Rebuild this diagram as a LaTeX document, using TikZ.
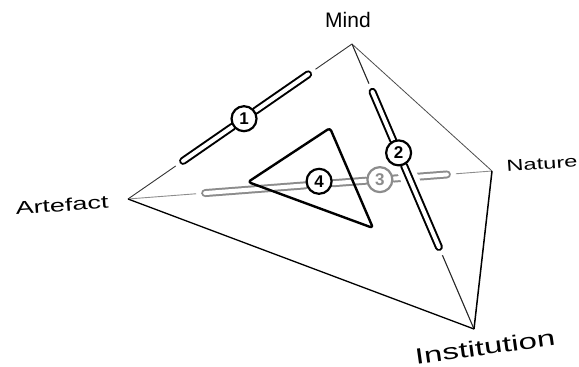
\documentclass[tikz,border=0pt]{standalone}
\usepackage{fontspec}
\setmainfont{Liberation Sans}
\usetikzlibrary{calc}
\begin{document}
\begin{tikzpicture}[x=1pt,y=-1pt,
  halo/.style={white,line width=18pt,line cap=round},
  capsule/.style={draw=#1,line width=2pt,double=white,double distance=4pt,line cap=round},
  num/.style={circle,draw=#1,text=#1,fill=white,line width=2.2pt,minimum size=25pt,inner sep=0pt,font=\fontsize{17}{17}\selectfont\bfseries},
  lbl/.style={inner sep=0pt}]
\useasboundingbox (0,0) rectangle (579,367);
% vertices
\coordinate (M) at (352,44);
\coordinate (A) at (128,199);
\coordinate (N) at (492,171);
\coordinate (I) at (474,329);
% labels
\node[lbl,font=\fontsize{21}{21}\selectfont] (lM) at (348,20) {Mind};
\node[lbl,rotate=4,font=\fontsize{18}{18}\selectfont] (lA) at (62,205) {\scalebox{1.5}[1]{Artefact}};
\node[lbl,rotate=4,font=\fontsize{16}{16}\selectfont] (lN) at (542,164) {\scalebox{1.48}[1]{Nature}};
\node[lbl,rotate=8,font=\fontsize{22}{22}\selectfont] (lI) at (485,347) {\scalebox{1.5}[1]{Institution}};
% edges
\draw[line width=0.9pt,black!80] (M) -- (A);
\draw[line width=0.8pt,black!70] (M) -- (N);
\draw[line width=1.1pt,black!85] (M) -- (I);
\draw[line width=0.9pt,black!45] (A) -- (N);
\draw[line width=1.3pt] (A) -- (I);
\draw[line width=1.5pt] (N) -- (I);
% bar 3 (grey)
\coordinate (b3a) at ($(A)!0.212!(N)$);
\coordinate (b3b) at ($(A)!0.876!(N)$);
\coordinate (p3) at ($(A)!0.692!(N)$);
\coordinate (p4) at ($(A)!0.525!(N)$);
\draw[halo] (b3a) -- (b3b);
\draw[capsule=black!45] (b3a) -- ($(p4)!14pt!(b3a)$);
\draw[capsule=black!45] ($(p4)!14pt!(p3)$) -- ($(p3)!14pt!(p4)$);
\draw[capsule=black!45] ($(p3)!14pt!(b3b)$) -- (b3b);
% triangle 4
\coordinate (t1) at (248,182);
\coordinate (t2) at (330,128);
\coordinate (t3) at (373,228);
\draw[line width=2.4pt,rounded corners=3pt,line join=round] (t1) -- (t2) -- (t3) -- cycle;
% bar 2
\coordinate (b2a) at ($(M)!0.168!(I)$);
\coordinate (b2b) at ($(M)!0.712!(I)$);
\coordinate (p2) at ($(M)!0.382!(I)$);
\draw[halo] (b2a) -- (b2b);
\draw[capsule=black] (b2a) -- ($(p2)!14pt!(b2a)$);
\draw[capsule=black] ($(p2)!14pt!(b2b)$) -- (b2b);
% bar 1
\coordinate (b1a) at ($(A)!0.246!(M)$);
\coordinate (b1b) at ($(A)!0.804!(M)$);
\coordinate (p1) at ($(A)!0.518!(M)$);
\draw[halo] (b1a) -- (b1b);
\draw[capsule=black] (b1a) -- ($(p1)!14pt!(b1a)$);
\draw[capsule=black] ($(p1)!14pt!(b1b)$) -- (b1b);
% numbered circles
\node[num=black] (c1) at (p1) {1};
\node[num=black] (c2) at (p2) {2};
\node[num=black!45] (c3) at (p3) {3};
\node[num=black] (c4) at ($(p4)+(0,-3)$) {4};
\end{tikzpicture}
\end{document}
